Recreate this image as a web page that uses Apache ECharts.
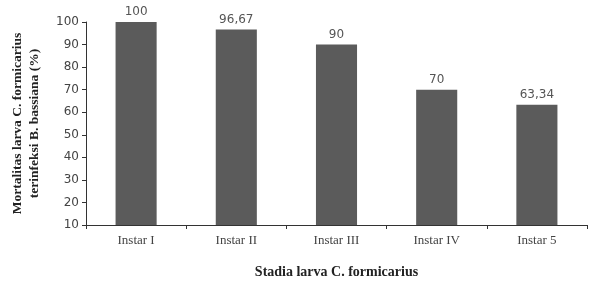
<!DOCTYPE html>
<html>
<head>
<meta charset="utf-8">
<script src="https://cdn.jsdelivr.net/npm/echarts@6/dist/echarts.min.js"></script>
<style>
  html, body { margin: 0; padding: 0; background: #fff; }
  #chart { width: 597px; height: 282px; }
</style>
</head>
<body>
<div id="chart"></div>
<script>
const categories = ['Instar I', 'Instar II', 'Instar III', 'Instar IV', 'Instar 5']
const mortality = [100, 96.67, 90, 70, 63.34]
const yMin = 10
const yMax = 100
const yStep = 10

const chart = echarts.init(document.getElementById('chart'))
chart.setOption({
  animation: false,
  grid: { left: 86, right: 10, top: 22, bottom: 57, outerBoundsMode: 'none' },
  xAxis: {
    type: 'category',
    data: categories,
    name: 'Stadia larva C. formicarius',
    nameLocation: 'middle',
    nameGap: 40,
    nameTextStyle: {
      fontFamily: 'Liberation Serif',
      fontWeight: 'bold',
      fontSize: 14,
      color: '#222',
    },
    axisLine: { lineStyle: { color: '#333', width: 1 } },
    axisTick: { show: true, length: 4, lineStyle: { color: '#333' } },
    axisLabel: {
      fontFamily: 'Liberation Serif',
      fontSize: 13,
      color: '#444',
      margin: 9,
    },
  },
  yAxis: {
    type: 'value',
    min: yMin,
    max: yMax,
    interval: yStep,
    name: 'Mortalitas larva C. formicarius\nterinfeksi B. bassiana (%)',
    nameLocation: 'middle',
    nameGap: 43,
    nameTextStyle: {
      fontFamily: 'Liberation Serif',
      fontWeight: 'bold',
      fontSize: 13.5,
      color: '#222',
      lineHeight: 17,
    },
    axisLine: { show: true, lineStyle: { color: '#333', width: 1 } },
    axisTick: { show: true, length: 4, lineStyle: { color: '#333' } },
    splitLine: { show: false },
    axisLabel: {
      fontFamily: 'DejaVu Sans',
      fontSize: 12,
      color: '#444',
      margin: 7,
    },
  },
  series: [
    {
      type: 'bar',
      data: mortality,
      barWidth: '41%',
      itemStyle: { color: '#5b5b5b' },
      label: {
        show: true,
        position: 'top',
        distance: 4,
        fontFamily: 'DejaVu Sans',
        fontSize: 12,
        color: '#555',
        formatter: (p) => String(p.value).replace('.', ','),
      },
    },
  ],
})
</script>
</body>
</html>
